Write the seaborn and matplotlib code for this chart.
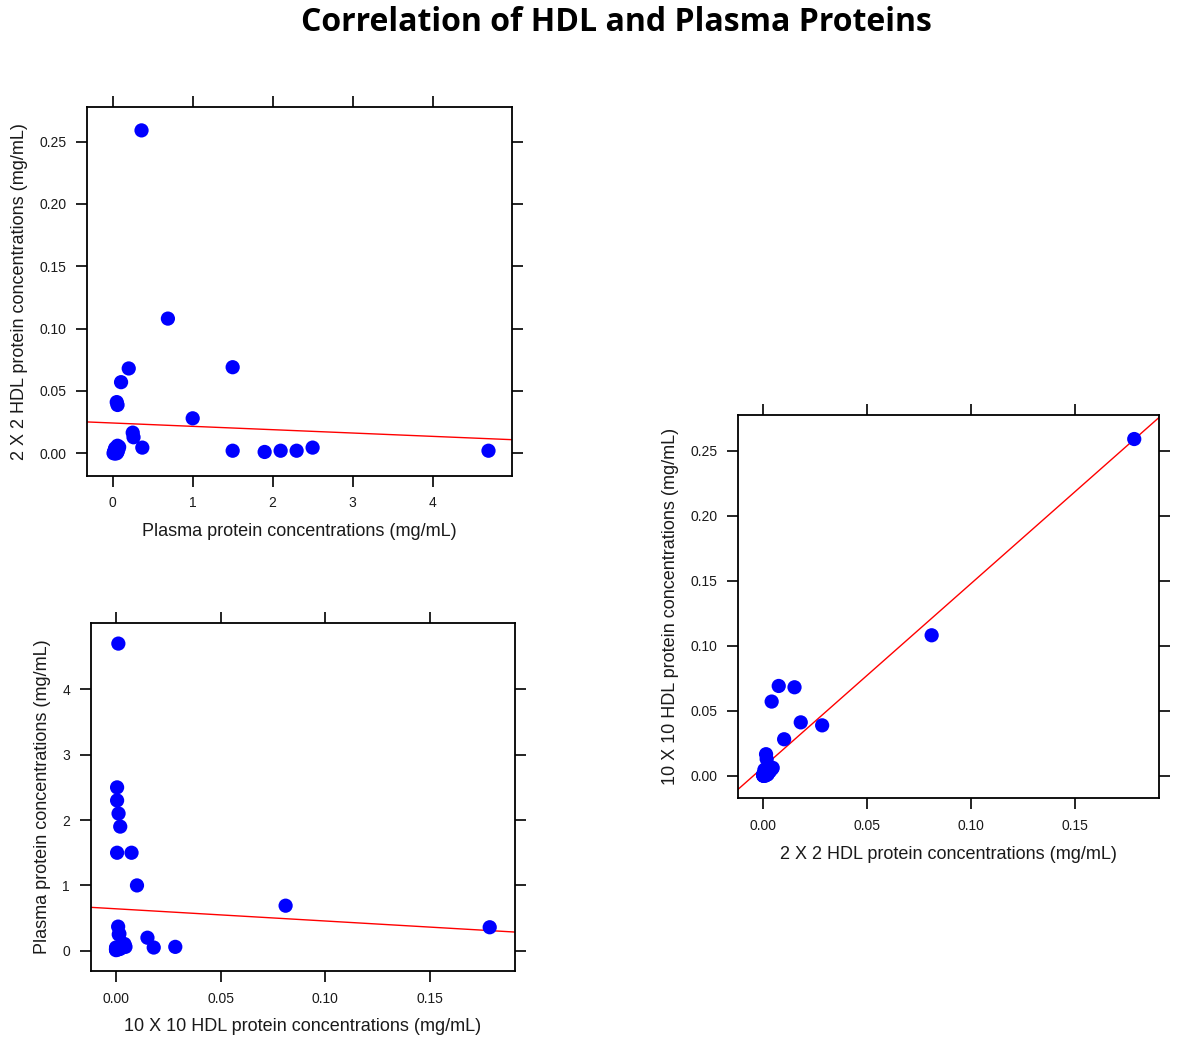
import numpy as np
import pandas as pd
import matplotlib
matplotlib.use("Agg")
import matplotlib.pyplot as plt
import seaborn as sns

# one row per protein: plasma, 2x2 HDL, 10x10 HDL concentrations (mg/mL)
plasma = [0.36, 0.69, 0.20, 1.50, 0.104, 0.05, 0.06, 1.00, 0.25, 0.26, 0.37,
          1.50, 1.90, 2.10, 2.30, 2.50, 4.70,
          0.02, 0.03, 0.05, 0.04, 0.06, 0.07, 0.01, 0.03, 0.05, 0.02,
          0.04, 0.06, 0.03, 0.05, 0.08, 0.02]
hdl_2x2 = [0.259, 0.108, 0.068, 0.069, 0.057, 0.041, 0.0387, 0.028, 0.0165, 0.0128, 0.0045,
           0.002, 0.001, 0.002, 0.002, 0.0045, 0.002,
           0.000, 0.001, 0.000, 0.002, 0.006, 0.003, 0.000, 0.004, 0.001, 0.002,
           0.000, 0.001, 0.000, 0.003, 0.005, 0.001]
hdl_10x10 = [0.1785, 0.081, 0.015, 0.0074, 0.004, 0.018, 0.0283, 0.010, 0.0013, 0.0016, 0.001,
             0.0005, 0.002, 0.0012, 0.0005, 0.0005, 0.0011,
             0.000, 0.000, 0.001, 0.001, 0.0045, 0.003, 0.000, 0.002, 0.000, 0.001,
             0.0005, 0.002, 0.000, 0.001, 0.004, 0.000]

df = pd.DataFrame({"plasma": plasma, "hdl2": hdl_2x2, "hdl10": hdl_10x10})

sns.set_style("ticks")
plt.rcParams["font.family"] = ["Liberation Sans", "DejaVu Sans"]

fig = plt.figure(figsize=(12, 10.39), dpi=100)

panels = [
    # (rect, x col, y col, xlim, ylim, xticks, yticks, xlabel, ylabel, fmt)
    ([0.0728, 0.5422, 0.3536, 0.3545], "plasma", "hdl2", (-0.3175, 4.99), (-0.018, 0.2775),
     [0, 1, 2, 3, 4], [0, 0.05, 0.10, 0.15, 0.20, 0.25],
     "Plasma protein concentrations (mg/mL)", "2 X 2 HDL protein concentrations (mg/mL)",
     ("{:.0f}", "{:.2f}")),
    ([0.0756, 0.0654, 0.3536, 0.3353], "hdl10", "plasma", (-0.0121, 0.1906), (-0.31, 5.02),
     [0, 0.05, 0.10, 0.15], [0, 1, 2, 3, 4],
     "10 X 10 HDL protein concentrations (mg/mL)", "Plasma protein concentrations (mg/mL)",
     ("{:.2f}", "{:.0f}")),
    ([0.615, 0.2317, 0.3508, 0.3689], "hdl10", "hdl2", (-0.0122, 0.1904), (-0.0174, 0.2775),
     [0, 0.05, 0.10, 0.15], [0, 0.05, 0.10, 0.15, 0.20, 0.25],
     "2 X 2 HDL protein concentrations (mg/mL)", "10 X 10 HDL protein concentrations (mg/mL)",
     ("{:.2f}", "{:.2f}")),
]

for rect, xc, yc, xl, yl, xt, yt, xlab, ylab, fmt in panels:
    ax = fig.add_axes(rect)
    ax.set_xlim(xl)
    ax.set_ylim(yl)
    sns.regplot(data=df, x=xc, y=yc, ax=ax, scatter=False, ci=None, truncate=False,
                line_kws={"color": "red", "lw": 1.0})
    sns.scatterplot(data=df, x=xc, y=yc, ax=ax, color="#0000ff", s=105,
                    edgecolor="none", linewidth=0, zorder=3)
    ax.set_xlim(xl)
    ax.set_ylim(yl)
    ax.set_xticks(xt)
    ax.set_yticks(yt)
    ax.set_xticklabels([fmt[0].format(v) for v in xt])
    ax.set_yticklabels([fmt[1].format(v) for v in yt])
    ax.tick_params(which="both", direction="out", length=8, width=1.2,
                   top=True, right=True, labeltop=False, labelright=False,
                   labelsize=10, pad=7, colors="black", labelcolor="#1a1a1a")
    for sp in ax.spines.values():
        sp.set_linewidth(1.3)
        sp.set_color("black")
    ax.set_xlabel(xlab, fontsize=13, labelpad=9, color="#1a1a1a")
    ax.set_ylabel(ylab, fontsize=13, labelpad=8, color="#1a1a1a")

fig.text(0.514, 0.978, "Correlation of HDL and Plasma Proteins", ha="center", va="center",
         fontsize=23, fontweight="bold", color="black",
         family=["Open Sans", "DejaVu Sans"])

fig.savefig("out.png", dpi=100)
